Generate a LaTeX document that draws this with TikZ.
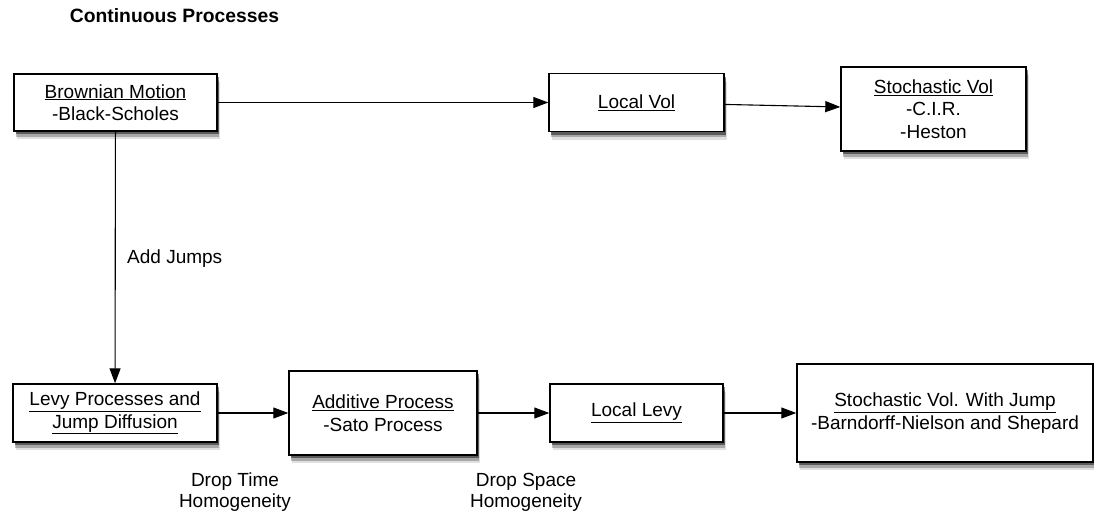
\documentclass[tikz,border=0pt]{standalone}
\usepackage{fontspec}
\setmainfont{Liberation Sans}
\usetikzlibrary{arrows.meta,shadows}

\begin{document}
\begin{tikzpicture}[x=1pt,y=-1pt,
  procbox/.style={draw,line width=1.4pt,fill=white,align=center,inner sep=0pt,
    font=\fontsize{19}{22.5}\selectfont,
    drop shadow={shadow xshift=2.5pt,shadow yshift=-8pt,fill=black,opacity=0.12},
    drop shadow={shadow xshift=2pt,shadow yshift=-5.5pt,fill=black,opacity=0.25},
    drop shadow={shadow xshift=1.5pt,shadow yshift=-3pt,fill=black,opacity=0.45}},
  flow/.style={-{Triangle[length=15pt,width=11pt]},line width=1.1pt},
  note/.style={align=center,inner sep=0pt,font=\fontsize{19}{21}\selectfont}]
\useasboundingbox (0,0) rectangle (1094,517);
\node[anchor=base,inner sep=0pt,font=\bfseries\fontsize{19.3}{23}\selectfont] (title) at (174.5,22) {Continuous Processes};
% top row
\node[procbox,minimum width=203pt,minimum height=57pt] (bm) at (115.5,102.5) {\underline{Brownian Motion}\\-Black-Scholes};
\node[procbox,minimum width=175pt,minimum height=58pt] (lvol) at (636.5,102.5) {\underline{Local Vol}};
\node[procbox,minimum width=185pt,minimum height=84pt] (svol) at (933.5,109) {\underline{Stochastic Vol}\\-C.I.R.\\-Heston};
% bottom row
\node[procbox,minimum width=204pt,minimum height=58pt] (levy) at (115,413) {\underline{Levy Processes and}\\\underline{Jump Diffusion}};
\node[procbox,minimum width=188pt,minimum height=84pt] (add) at (383,413) {\underline{Additive Process}\\-Sato Process};
\node[procbox,minimum width=173pt,minimum height=58pt] (llevy) at (636.5,413) {\underline{Local Levy}};
\node[procbox,minimum width=296pt,minimum height=98pt] (svj) at (945,413) {\underline{Stochastic Vol. With Jump}\\-Barndorff-Nielson and Shepard};
% connectors
\draw[flow] (bm) -- (lvol);
\draw[flow] (lvol) -- (svol);
\draw[flow] (bm) -- (levy);
\draw[flow] (levy) -- (add);
\draw[flow] (add) -- (llevy);
\draw[flow] (llevy) -- (svj);
% labels
\node[note,anchor=base west] (jumps) at (127,263) {Add Jumps};
\node[note] (droptime) at (235,492) {Drop Time\\Homogeneity};
\node[note] (dropspace) at (526,492) {Drop Space\\Homogeneity};
\end{tikzpicture}
\end{document}
